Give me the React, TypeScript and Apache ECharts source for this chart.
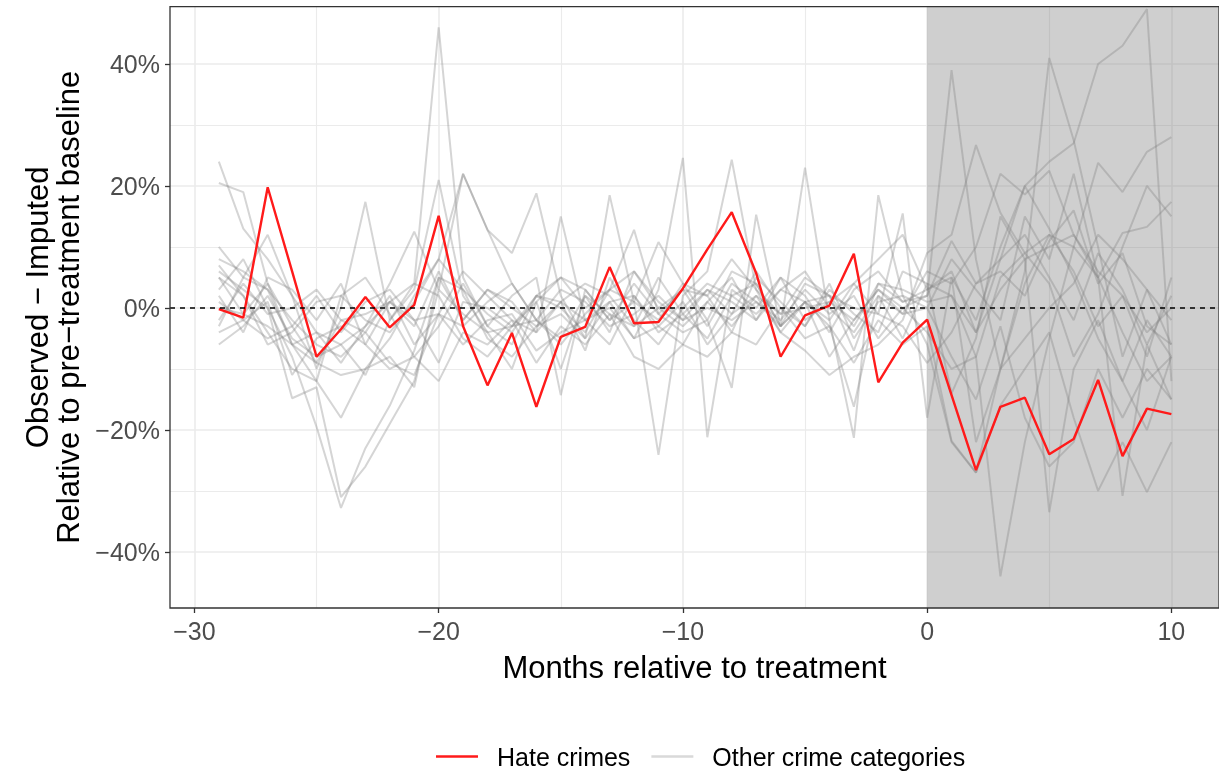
import React, { useEffect, useRef } from "react";
import * as echarts from "echarts";

const months = [-29, -28, -27, -26, -25, -24, -23, -22, -21, -20, -19, -18, -17, -16, -15, -14, -13, -12, -11, -10, -9, -8, -7, -6, -5, -4, -3, -2, -1, 0, 1, 2, 3, 4, 5, 6, 7, 8, 9, 10];

const hateCrimes = [-0.2, -1.6, 19.8, 6, -8.0, -3.5, 1.8, -3.2, 0.5, 15.1, -3.0, -12.7, -4.1, -16.2, -4.75, -3.1, 6.7, -2.5, -2.3, 3.2, 9.6, 15.7, 5.7, -8.0, -1.2, 0.4, 8.9, -12.2, -5.7, -1.9, -14.3, -26.6, -16.2, -14.7, -24.0, -21.5, -11.8, -24.3, -16.5, -17.4];

const other01 = [24, 13, 8, 2, -4, -6, -3, 1, 4, 46, 5, -3, -6, 2, 0, -4, 3, 1, -2, 4, 2, 8, 3, -1, 5, 2, -3, 4, 1, 3, 6, -4, 8, 12, 5, -2, 9, 3, -6, 2];
const other02 = [20.5, 19, 4, -6, -12, -18, -10, -5, 2, 8, 22, 12.8, 4, -2, -6, -1, 3, 6, 0, -3, 1, 5, -2, 3, 6, 0, -4, 2, -1, 6, 4, 10, 22, 18.6, 22.5, 12, 6, 2, -4, 0];
const other03 = [6, 3, 0, -8, -19.5, -32.8, -23, -16, -7, 5, 3, -5, -8, -3, 1, -2, -6, 2, -4, -1, -5, 2, 4, -3, 1, -8, -2, 3, 0, -4, -10, -8, 5, 9, 12, 10, 5, -4, -12, -8];
const other04 = [3, 8, 0, -14.8, -13, -31, -26, -19, -12, 3, -1, -4, -3, 1, -10, 2, -4, 6, 1, -2, 3, -1, 6, 0, -3, 4, -5, 1, 2, -6, -22, -27, -10, -5, 0, 4, 12, 8, 3, -6];
const other05 = [-3, 5, 12, 2, -10, 0, 17.4, -2, 3, 21, 2, -4, -10, 1, 5, 3, -2, 4, -1, 3, -3, 4, 1, -2, 3, -1, 2, -5, 0, 2, 39, 8, -10, 4, 12, 6, -3, 2, -8, 5];
const other06 = [8, 6, 3, -6, -4, -9, -3, 4, 12.5, 3, 22, 12.8, 9, 18.8, 2, -5, 18.5, 1, 10.8, 4, -2, 6, 4, -3, 1, 2, -7, 4, 3, 1, 2, -8, -44, -22, -5, 10, 23.8, 19, 25.6, 28];
const other07 = [2, -4, 5, 3, -2, 4, -6, 1, -3, 6, -2, 3, 1, -4, 15, -2, 0, -5, 3, 24.6, -21.2, 3, 0, 5, -2, 1, 4, -1, 15.5, -18, 5, -22, -10, 6, 41, 27.5, 10, -8, 3, -2];
const other08 = [5, 2, -4, -10, -12, 2, 5, -1, -8, -3, 4, -3, 2, 5, -14.3, 3, -2, 1, -24.1, 2, 6, 24.3, 3, -4, 1, -3, -16.2, 2, -5, 4, -14, -5, 15, 8, -33.5, -10, -2, -12, -20, -8];
const other09 = [-6, -3, 2, -5, -8, -6, -11, -2, 4, 2, -5, -8, -3, 2, 5, 0, 3, 12.8, -1, -4, -2, -13.1, 15.3, -3, 23, -2, -21.3, 18.5, 2, 0, 8, 3, -2, 15, 8, 22, 5, -30.8, -6, -15];
const other10 = [1, -2, -5, -3, 2, -4, 1, 3, -2, -1, 6, 2, -2, -4, 1, 4, 2, -3, 5, -1, 3, 1, -2, 5, 2, -4, 3, 6, 1, 2, 11, 4, 8, 20, 24, 27, 40, 43, 49, -12];
const other11 = [-2, 4, -1, 0, 3, -2, -4, 2, -6, -1, -3, 1, 4, -2, -5, 2, -1, -3, 0, 3, 2, -4, 5, 1, -3, 3, -1, -4, 6, 4, 2, -4, 3, 8, 10, 12, 5, 12.3, 13.3, 17.4];
const other12 = [10, 5, 3, -2, -6, -8, -4, -9, -11, -1, -6, -2, -1, -7, -4, -2, 1, -5, -3, 1, -6, -1, 2, -4, -7, -11, -8, -6, -2, 9, 12, 26.7, 15.6, 9, 4, -8, -1, 10, 20, 15];
const other13 = [-4, -2, 1, -11, -5, -3, -6, -10, -8, -12, -4, -6, -2, -9, -3, -6, -1, -8, -10, -6, -8, -4, -6, 0, -5, -3, -9, -2, -6, -3, -21.8, -27, -16, -10, -4, -18, -30, -22, -30.2, -22];
const other14 = [7, 2, -6, -4, 1, 2, -2, -4, 1, 8, 3, -1, -4, 2, 1, -7, 5, -2, -6, 0, 4, 2, -1, 3, 1, -2, 4, 8, 12, 3, 5, -2, 10, 20, 13, 5, -5, -12, -2, -8];
const other15 = [0, -1, 4, -3, -9, -2, -1, 1, -2, -9, 1, 0, -3, -2, 3, 1, -3, -1, 2, -2, 0, -2, 1, -3, 4, 2, 0, -1, -3, -9, -4, 4, 6, 2, 11, 16, 4, 9, -3, -6];
const other16 = [5, -1, -3, -6, -9, -11, -10, -8, -13, 5, -2, 3, 0, -3, -1, -5, 1, 2, -3, -6, 1, -3, 2, -1, 0, 1, -2, 3, -1, 0, -8, -15, -3, -18, -26, -22, -10, -18, -10, -15];

const otherCategories = [other01, other02, other03, other04, other05, other06, other07, other08, other09, other10, other11, other12, other13, other14, other15, other16];

const xTickValues = [-30, -20, -10, 0, 10];
const xMinorGrid = [-25, -15, -5, 5];
const yTickValues = [-40, -20, 0, 20, 40];
const yMinorGrid = [-30, -10, 10, 30];
const treatmentStart = 0;

const X_MIN = -31;
const X_MAX = 11.95;
const Y_MIN = -49.2;
const Y_MAX = 49.4;

const FONT = "'Liberation Sans', Arial, Helvetica, sans-serif";
const minus = (v: number) => (v < 0 ? "\u2212" + Math.abs(v) : String(v));

export default function App() {
  const ref = useRef<HTMLDivElement>(null);
  useEffect(() => {
    if (!ref.current) return;
    const chart = echarts.init(ref.current, null, { renderer: "svg" });
    const pair = (vals: number[]) => months.map((m, i) => [m, vals[i]]);
    const gridColor = "#ebebeb";
    const grayColor = "rgba(128,128,128,0.33)";
    const redColor = "#ff1a1a";
    const grayLines = otherCategories.map((vals) => ({
      name: "Other crime categories",
      type: "line",
      data: pair(vals),
      showSymbol: false,
      symbol: "none",
      silent: true,
      z: 3,
      lineStyle: { color: grayColor, width: 2 },
      itemStyle: { color: grayColor },
      emphasis: { disabled: true },
    }));
    chart.setOption({
      animation: false,
      textStyle: { fontFamily: FONT },
      grid: {
        left: 170,
        top: 6.7,
        width: 1050.6,
        height: 601.3,
        show: true,
        borderColor: "#333333",
        borderWidth: 1.3,
        backgroundColor: "transparent",
        z: 10,
      },
      xAxis: {
        type: "value",
        min: X_MIN,
        max: X_MAX,
        splitLine: { show: false },
        axisLine: { show: false, onZero: false },
        axisTick: {
          show: true,
          length: 5,
          customValues: xTickValues,
          lineStyle: { color: "#333333", width: 1.3 },
        },
        axisLabel: {
          customValues: xTickValues,
          color: "#4d4d4d",
          fontSize: 25,
          margin: 10,
          fontFamily: FONT,
          formatter: (v: number) => minus(v),
        },
        name: "Months relative to treatment",
        nameLocation: "middle",
        nameGap: 44,
        nameTextStyle: { color: "#000", fontSize: 31, fontFamily: FONT },
      },
      yAxis: {
        type: "value",
        min: Y_MIN,
        max: Y_MAX,
        splitLine: { show: false },
        axisLine: { show: false, onZero: false },
        axisTick: {
          show: true,
          length: 5,
          customValues: yTickValues,
          lineStyle: { color: "#333333", width: 1.3 },
        },
        axisLabel: {
          customValues: yTickValues,
          color: "#4d4d4d",
          fontSize: 25,
          margin: 10,
          fontFamily: FONT,
          formatter: (v: number) => minus(v) + "%",
        },
        name: "Observed \u2212 Imputed\nRelative to pre\u2212treatment baseline",
        nameLocation: "middle",
        nameGap: 86,
        nameTextStyle: { color: "#000", fontSize: 31, lineHeight: 31, fontFamily: FONT, align: "center" },
      },
      legend: {
        left: 431,
        top: 739,
        itemWidth: 42,
        itemHeight: 2.5,
        itemGap: 21,
        selectedMode: false,
        data: [
          { name: "Hate crimes", icon: "rect", itemStyle: { color: redColor } },
          { name: "Other crime categories", icon: "rect", itemStyle: { color: "#d9d9d9" } },
        ],
        textStyle: { color: "#000", fontSize: 25, fontFamily: FONT, padding: [0, 0, 0, 14] },
      },
      series: [
        {
          name: "grid",
          type: "line",
          data: [],
          silent: true,
          z: 1,
          markLine: {
            silent: true,
            z: 1,
            symbol: ["none", "none"],
            label: { show: false },
            animation: false,
            data: [
              ...xTickValues.map((v) => ({ xAxis: v, lineStyle: { color: gridColor, width: 1.6, type: "solid" } })),
              ...xMinorGrid.map((v) => ({ xAxis: v, lineStyle: { color: gridColor, width: 1.1, type: "solid" } })),
              ...yTickValues.map((v) => ({ yAxis: v, lineStyle: { color: gridColor, width: 1.6, type: "solid" } })),
              ...yMinorGrid.map((v) => ({ yAxis: v, lineStyle: { color: gridColor, width: 1.1, type: "solid" } })),
            ],
          },
        },
        {
          name: "shade",
          type: "line",
          data: [],
          silent: true,
          z: 2,
          markArea: {
            silent: true,
            z: 2,
            itemStyle: { color: "rgba(128,128,128,0.38)" },
            data: [[{ xAxis: treatmentStart }, { xAxis: X_MAX }]],
          },
        },
        ...grayLines,
        {
          name: "Hate crimes",
          type: "line",
          data: pair(hateCrimes),
          showSymbol: false,
          symbol: "none",
          silent: true,
          z: 5,
          lineStyle: { color: redColor, width: 2.4 },
          itemStyle: { color: redColor },
          emphasis: { disabled: true },
        },
        {
          name: "zero",
          type: "line",
          data: [],
          silent: true,
          z: 6,
          markLine: {
            silent: true,
            z: 6,
            symbol: ["none", "none"],
            label: { show: false },
            data: [{ yAxis: 0, lineStyle: { color: "#000", width: 1.6, type: [5, 5] } }],
          },
        },
      ],
    });
    return () => chart.dispose();
  }, []);
  return <div ref={ref} style={{ position: "fixed", left: 0, top: 0, width: 1219, height: 773 }} />;
}
